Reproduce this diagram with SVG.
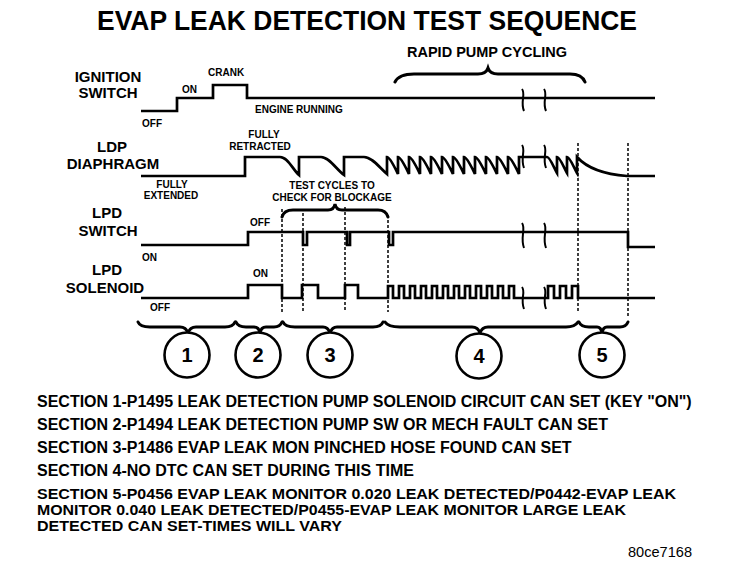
<svg xmlns="http://www.w3.org/2000/svg" width="736" height="572" viewBox="0 0 736 572">
<style>
text{font-family:"Liberation Sans",Arial,sans-serif;font-weight:bold;fill:#000}
.big{font-size:15px;text-anchor:middle}
.sm{font-size:10px}
.smc{font-size:10px;text-anchor:middle}
.sec{font-size:16px}
.sec5{font-size:14px}
.wave{fill:none;stroke:#000;stroke-width:2.7;stroke-linejoin:miter}
.brk{fill:none;stroke:#000;stroke-width:2}
.dash{fill:none;stroke:#000;stroke-width:1.5;stroke-dasharray:3 2}
.brace{fill:none;stroke:#000;stroke-width:3;stroke-linecap:round}
.circ{fill:#fff;stroke:#000;stroke-width:2.6}
.num{font-size:20px;text-anchor:middle}
</style>
<rect width="736" height="572" fill="#fff"/>
<text id="title" x="367" y="30" font-size="27" text-anchor="middle" textLength="540" lengthAdjust="spacingAndGlyphs">EVAP LEAK DETECTION TEST SEQUENCE</text>

<g id="ignition">
<text class="big" x="108" y="82">IGNITION</text>
<text class="big" x="108" y="98">SWITCH</text>
<text class="sm" x="142" y="127">OFF</text>
<text class="sm" x="182" y="93">ON</text>
<text class="sm" x="208" y="76">CRANK</text>
<text class="sm" x="255" y="113">ENGINE RUNNING</text>
<path class="wave" d="M141,111 H177 V98 H213 V85 H247 V98 H655"/>
<path class="brk" d="M522,89 C526,94 520,102 524,111 M544,89 C548,94 542,102 546,111"/>
</g>

<g id="rapid-pump-cycling">
<text x="407" y="57" font-size="14.5">RAPID PUMP CYCLING</text>
<path class="brace" stroke-width="3.5" d="M395,82 Q399,74 414,74 L478,74 Q486,74 488,68 Q490,74 498,74 L570,74 Q582,74 585,82"/>
</g>

<g id="ldp-diaphragm">
<text class="big" x="112" y="152">LDP</text>
<text class="big" x="113" y="168.5">DIAPHRAGM</text>
<text class="smc" x="264" y="138">FULLY</text>
<text class="smc" x="260" y="150">RETRACTED</text>
<text class="smc" x="172" y="188" font-size="9.5">FULLY</text>
<text class="smc" x="171" y="199" font-size="9.5">EXTENDED</text>
<path class="wave" d="M141,176 H245 V157 H280 C288,157 293,170 299,175 V157 H321 C329,157 337,170 344,175 V157 H364 C372,157 380,168 387,174 V157
c3,0 8,11 11,17 v-17 c3,0 8,11 11,17 v-17 c3,0 8,11 11,17 v-17 c3,0 8,11 11,17 v-17
c3,0 8,11 11,17 v-17 c3,0 8,11 11,17 v-17 c3,0 8,11 11,17 v-17 c3,0 8,11 11,17 v-17
c3,0 8,11 11,17 v-17 c3,0 8,11 11,17 v-17 c3,0 8,11 11,17 v-17 c3,0 8,11 11,17 v-17
H547 c3,0 7,11 10,16 v-16 c3,0 7,11 10,16 v-16 c3,0 7,11 10,16 v-16
C586,167 600,174 627,176 H655"/>
<path class="brk" d="M522,145 C526,150 520,158 524,168 M544,145 C548,150 542,158 546,168"/>
</g>

<g id="test-cycles">
<text class="smc" x="332" y="189">TEST CYCLES TO</text>
<text class="smc" x="332" y="201">CHECK FOR BLOCKAGE</text>
<path class="brace" stroke-width="2.6" d="M282,217 Q284,210 293,210 L328,210 Q334,210 335,204 Q336,210 342,210 L378,210 Q386,210 388,217"/>
</g>

<g id="lpd-switch">
<text class="big" x="107" y="218">LPD</text>
<text class="big" x="108" y="235.5">SWITCH</text>
<text class="sm" x="250" y="226">OFF</text>
<text class="sm" x="142" y="261">ON</text>
<path class="wave" d="M141,245 H248 V232 H303 V245 H307 V232 H347 V245 H350 V232 H389 V245 H393 V232 H628 V247 H655"/>
<path class="brk" d="M522,223 C526,228 520,238 524,248 M544,223 C548,228 542,238 546,248"/>
</g>

<g id="lpd-solenoid">
<text class="big" x="107" y="275">LPD</text>
<text class="big" x="105" y="292.5">SOLENOID</text>
<text class="sm" x="253" y="277">ON</text>
<text class="sm" x="150" y="311">OFF</text>
<path class="wave" d="M141,298 H248 V285 H282 V298 H302 V285 H318 V298 H345 V285 H358 V298 H388
V286 h5 V298 h6 V286 h5 V298 h6 V286 h5 V298 h6 V286 h5 V298 h6
V286 h5 V298 h6 V286 h5 V298 h6 V286 h5 V298 h6 V286 h5 V298 h6
V286 h5 V298 h6 V286 h5 V298 h6 V286 h5 V298 h6 V286 h5 V298 h6
H548 V286 h6 V298 h6 V286 h6 V298 h6 V286 h6 V298 H655"/>
<path class="brk" d="M522,287 C526,292 520,299 524,309 M544,287 C548,292 542,299 546,309"/>
</g>

<g id="connectors">
<path class="dash" d="M282,209 V312 M303,213 V312 M345,207 V312 M388,215 V312 M578,143 V312 M628,143 V318"/>
<path class="brace" d="M138,322 Q140,327 150,327 L180,327 Q186,327 188,333 Q190,327 196,327 L225,327 Q233,327 235,322"/>
<path class="brace" d="M236,322 Q238,327 246,327 L254,327 Q259,327 260,333 Q261,327 266,327 L274,327 Q280,327 282,322"/>
<path class="brace" d="M283,322 Q285,327 295,327 L323,327 Q328,327 330,333 Q332,327 337,327 L373,327 Q381,327 383,322"/>
<path class="brace" d="M385,322 Q388,327 400,327 L472,327 Q478,327 480,333 Q482,327 488,327 L566,327 Q575,327 578,322"/>
<path class="brace" d="M579,322 Q581,327 589,327 L597,327 Q601,327 602,333 Q603,327 607,327 L620,327 Q626,327 628,322"/>
</g>

<g id="section-1"><circle class="circ" cx="187" cy="355" r="22.5"/><text class="num" x="187" y="362">1</text></g>
<g id="section-2"><circle class="circ" cx="258" cy="355" r="22.5"/><text class="num" x="258" y="362">2</text></g>
<g id="section-3"><circle class="circ" cx="330" cy="355" r="22.5"/><text class="num" x="330" y="362">3</text></g>
<g id="section-4"><circle class="circ" cx="479" cy="356" r="22.5"/><text class="num" x="479" y="363">4</text></g>
<g id="section-5"><circle class="circ" cx="602" cy="355" r="22.5"/><text class="num" x="602" y="362">5</text></g>

<g id="legend">
<text class="sec" x="37" y="407">SECTION 1-P1495 LEAK DETECTION PUMP SOLENOID CIRCUIT CAN SET (KEY "ON")</text>
<text class="sec" x="37" y="430">SECTION 2-P1494 LEAK DETECTION PUMP SW OR MECH FAULT CAN SET</text>
<text class="sec" x="37" y="453">SECTION 3-P1486 EVAP LEAK MON PINCHED HOSE FOUND CAN SET</text>
<text class="sec" x="37" y="476">SECTION 4-NO DTC CAN SET DURING THIS TIME</text>
<text class="sec5" x="37" y="498.5" textLength="639" lengthAdjust="spacingAndGlyphs">SECTION 5-P0456 EVAP LEAK MONITOR 0.020 LEAK DETECTED/P0442-EVAP LEAK</text>
<text class="sec5" x="37" y="514.5" textLength="589" lengthAdjust="spacingAndGlyphs">MONITOR 0.040 LEAK DETECTED/P0455-EVAP LEAK MONITOR LARGE LEAK</text>
<text class="sec5" x="37" y="530.5" textLength="305" lengthAdjust="spacingAndGlyphs">DETECTED CAN SET-TIMES WILL VARY</text>
<text x="628" y="557" font-size="14" style="font-weight:normal" textLength="64" lengthAdjust="spacingAndGlyphs">80ce7168</text>
</g>
</svg>
